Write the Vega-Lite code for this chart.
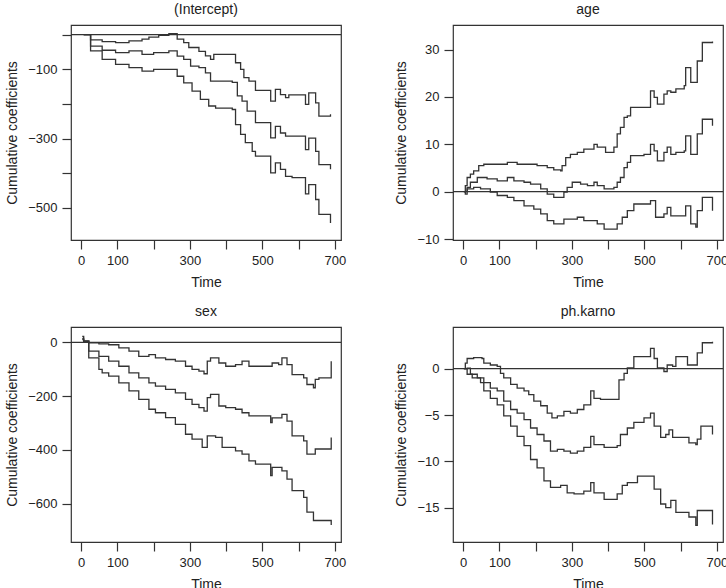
{
  "$schema": "https://vega.github.io/schema/vega-lite/v6.json",
  "padding": {"left": 5, "top": 2, "right": 2, "bottom": 2},
  "background": "white",
  "config": {
    "font": "Liberation Sans",
    "view": {"stroke": "#333", "strokeWidth": 1.2},
    "axis": {"domain": false, "grid": false, "tickColor": "#333", "tickSize": 9, "tickWidth": 1.2,
             "labelFontSize": 13, "labelColor": "#222", "labelPadding": 5, "titlePadding": 8,
             "titleFontSize": 14, "titleFontWeight": "normal", "titleColor": "#222"},
    "title": {"fontSize": 14, "fontWeight": "normal", "color": "#222", "offset": 8}
  },
  "datasets": {
    "icpt": [
      {"t":7,"v":0,"s":"u"},{"t":26,"v":-15,"s":"u"},{"t":58,"v":-20,"s":"u"},{"t":95,"v":-23,"s":"u"},{"t":132,"v":-18,"s":"u"},{"t":168,"v":-13,"s":"u"},{"t":187,"v":-7,"s":"u"},{"t":214,"v":-2,"s":"u"},{"t":242,"v":3,"s":"u"},{"t":265,"v":-13,"s":"u"},{"t":283,"v":-23,"s":"u"},{"t":297,"v":-37,"s":"u"},{"t":325,"v":-48,"s":"u"},{"t":343,"v":-61,"s":"u"},{"t":357,"v":-71,"s":"u"},{"t":366,"v":-57,"s":"u"},{"t":389,"v":-57,"s":"u"},{"t":426,"v":-81,"s":"u"},{"t":440,"v":-100,"s":"u"},{"t":449,"v":-124,"s":"u"},{"t":463,"v":-134,"s":"u"},{"t":481,"v":-161,"s":"u"},{"t":518,"v":-161,"s":"u"},{"t":523,"v":-192,"s":"u"},{"t":536,"v":-158,"s":"u"},{"t":550,"v":-173,"s":"u"},{"t":564,"v":-182,"s":"u"},{"t":573,"v":-174,"s":"u"},{"t":614,"v":-174,"s":"u"},{"t":619,"v":-201,"s":"u"},{"t":628,"v":-168,"s":"u"},{"t":641,"v":-168,"s":"u"},{"t":647,"v":-197,"s":"u"},{"t":656,"v":-235,"s":"u"},{"t":688,"v":-230,"s":"u"},
      {"t":7,"v":0,"s":"e"},{"t":26,"v":-33,"s":"e"},{"t":58,"v":-45,"s":"e"},{"t":95,"v":-52,"s":"e"},{"t":132,"v":-47,"s":"e"},{"t":168,"v":-57,"s":"e"},{"t":200,"v":-52,"s":"e"},{"t":242,"v":-47,"s":"e"},{"t":265,"v":-62,"s":"e"},{"t":283,"v":-71,"s":"e"},{"t":302,"v":-91,"s":"e"},{"t":325,"v":-95,"s":"e"},{"t":343,"v":-110,"s":"e"},{"t":357,"v":-134,"s":"e"},{"t":389,"v":-134,"s":"e"},{"t":417,"v":-138,"s":"e"},{"t":431,"v":-177,"s":"e"},{"t":444,"v":-192,"s":"e"},{"t":458,"v":-221,"s":"e"},{"t":481,"v":-254,"s":"e"},{"t":518,"v":-254,"s":"e"},{"t":523,"v":-298,"s":"e"},{"t":536,"v":-265,"s":"e"},{"t":550,"v":-284,"s":"e"},{"t":564,"v":-293,"s":"e"},{"t":614,"v":-293,"s":"e"},{"t":619,"v":-332,"s":"e"},{"t":628,"v":-299,"s":"e"},{"t":641,"v":-299,"s":"e"},{"t":647,"v":-337,"s":"e"},{"t":656,"v":-375,"s":"e"},{"t":688,"v":-389,"s":"e"},
      {"t":7,"v":0,"s":"l"},{"t":26,"v":-47,"s":"l"},{"t":58,"v":-71,"s":"l"},{"t":95,"v":-86,"s":"l"},{"t":132,"v":-95,"s":"l"},{"t":168,"v":-105,"s":"l"},{"t":200,"v":-100,"s":"l"},{"t":242,"v":-100,"s":"l"},{"t":265,"v":-120,"s":"l"},{"t":283,"v":-139,"s":"l"},{"t":306,"v":-163,"s":"l"},{"t":329,"v":-187,"s":"l"},{"t":352,"v":-206,"s":"l"},{"t":371,"v":-212,"s":"l"},{"t":417,"v":-216,"s":"l"},{"t":426,"v":-260,"s":"l"},{"t":440,"v":-288,"s":"l"},{"t":453,"v":-312,"s":"l"},{"t":472,"v":-337,"s":"l"},{"t":481,"v":-351,"s":"l"},{"t":518,"v":-351,"s":"l"},{"t":523,"v":-399,"s":"l"},{"t":536,"v":-370,"s":"l"},{"t":550,"v":-389,"s":"l"},{"t":564,"v":-409,"s":"l"},{"t":582,"v":-413,"s":"l"},{"t":614,"v":-413,"s":"l"},{"t":619,"v":-460,"s":"l"},{"t":628,"v":-433,"s":"l"},{"t":641,"v":-433,"s":"l"},{"t":647,"v":-476,"s":"l"},{"t":656,"v":-519,"s":"l"},{"t":688,"v":-544,"s":"l"}
    ],
    "age": [
      {"t":2,"v":0,"s":"u"},{"t":6,"v":1.3,"s":"u"},{"t":11,"v":3,"s":"u"},{"t":20,"v":3.7,"s":"u"},{"t":29,"v":4.4,"s":"u"},{"t":43,"v":5.5,"s":"u"},{"t":57,"v":5.8,"s":"u"},{"t":94,"v":5.8,"s":"u"},{"t":122,"v":6.2,"s":"u"},{"t":149,"v":5.8,"s":"u"},{"t":177,"v":5.8,"s":"u"},{"t":204,"v":5.5,"s":"u"},{"t":232,"v":5.1,"s":"u"},{"t":250,"v":4.6,"s":"u"},{"t":269,"v":4.4,"s":"u"},{"t":273,"v":5.5,"s":"u"},{"t":283,"v":7.2,"s":"u"},{"t":296,"v":7.9,"s":"u"},{"t":315,"v":8.3,"s":"u"},{"t":333,"v":9,"s":"u"},{"t":361,"v":10,"s":"u"},{"t":370,"v":9.4,"s":"u"},{"t":389,"v":9.4,"s":"u"},{"t":393,"v":8.3,"s":"u"},{"t":416,"v":9.4,"s":"u"},{"t":425,"v":12.2,"s":"u"},{"t":434,"v":13.6,"s":"u"},{"t":444,"v":15.7,"s":"u"},{"t":453,"v":16,"s":"u"},{"t":462,"v":17.8,"s":"u"},{"t":499,"v":17.8,"s":"u"},{"t":517,"v":21.3,"s":"u"},{"t":527,"v":19.9,"s":"u"},{"t":536,"v":18.5,"s":"u"},{"t":554,"v":20.6,"s":"u"},{"t":563,"v":21.3,"s":"u"},{"t":573,"v":21,"s":"u"},{"t":587,"v":21.7,"s":"u"},{"t":610,"v":22.4,"s":"u"},{"t":614,"v":26.2,"s":"u"},{"t":628,"v":23.1,"s":"u"},{"t":646,"v":27.6,"s":"u"},{"t":660,"v":31.5,"s":"u"},{"t":688,"v":31.7,"s":"u"},
      {"t":2,"v":0,"s":"e"},{"t":6,"v":-0.5,"s":"e"},{"t":11,"v":0.9,"s":"e"},{"t":20,"v":2,"s":"e"},{"t":39,"v":3,"s":"e"},{"t":66,"v":2.7,"s":"e"},{"t":94,"v":2.3,"s":"e"},{"t":122,"v":3,"s":"e"},{"t":140,"v":2.3,"s":"e"},{"t":168,"v":2,"s":"e"},{"t":186,"v":1.6,"s":"e"},{"t":214,"v":0.6,"s":"e"},{"t":232,"v":-0.5,"s":"e"},{"t":250,"v":-1.2,"s":"e"},{"t":278,"v":-0.1,"s":"e"},{"t":287,"v":0.9,"s":"e"},{"t":301,"v":2,"s":"e"},{"t":324,"v":1.6,"s":"e"},{"t":343,"v":1.3,"s":"e"},{"t":361,"v":2,"s":"e"},{"t":370,"v":1.3,"s":"e"},{"t":389,"v":0.6,"s":"e"},{"t":416,"v":0.9,"s":"e"},{"t":425,"v":2,"s":"e"},{"t":434,"v":3,"s":"e"},{"t":444,"v":5.1,"s":"e"},{"t":453,"v":6.2,"s":"e"},{"t":462,"v":7.6,"s":"e"},{"t":499,"v":7.9,"s":"e"},{"t":517,"v":10,"s":"e"},{"t":527,"v":8.6,"s":"e"},{"t":536,"v":6.5,"s":"e"},{"t":554,"v":8.3,"s":"e"},{"t":563,"v":9.4,"s":"e"},{"t":573,"v":7.9,"s":"e"},{"t":587,"v":8.3,"s":"e"},{"t":610,"v":8.6,"s":"e"},{"t":614,"v":11.8,"s":"e"},{"t":628,"v":7.9,"s":"e"},{"t":646,"v":12.2,"s":"e"},{"t":660,"v":15.3,"s":"e"},{"t":688,"v":13.9,"s":"e"},
      {"t":2,"v":0,"s":"l"},{"t":11,"v":0.6,"s":"l"},{"t":29,"v":0.9,"s":"l"},{"t":48,"v":0.6,"s":"l"},{"t":75,"v":-0.1,"s":"l"},{"t":94,"v":-0.8,"s":"l"},{"t":122,"v":-1.2,"s":"l"},{"t":140,"v":-1.9,"s":"l"},{"t":168,"v":-3,"s":"l"},{"t":195,"v":-3.7,"s":"l"},{"t":214,"v":-4.7,"s":"l"},{"t":232,"v":-6.1,"s":"l"},{"t":250,"v":-6.8,"s":"l"},{"t":278,"v":-5.8,"s":"l"},{"t":315,"v":-5.4,"s":"l"},{"t":333,"v":-6.1,"s":"l"},{"t":370,"v":-6.8,"s":"l"},{"t":389,"v":-7.9,"s":"l"},{"t":425,"v":-6.8,"s":"l"},{"t":439,"v":-5.4,"s":"l"},{"t":453,"v":-4,"s":"l"},{"t":471,"v":-2.6,"s":"l"},{"t":517,"v":-1.9,"s":"l"},{"t":531,"v":-5.4,"s":"l"},{"t":554,"v":-4.7,"s":"l"},{"t":563,"v":-3.3,"s":"l"},{"t":573,"v":-5.1,"s":"l"},{"t":614,"v":-3,"s":"l"},{"t":628,"v":-6.8,"s":"l"},{"t":642,"v":-7.5,"s":"l"},{"t":646,"v":-4,"s":"l"},{"t":660,"v":-1.2,"s":"l"},{"t":688,"v":-4,"s":"l"}
    ],
    "sex": [
      {"t":3,"v":22,"s":"u"},{"t":7,"v":4,"s":"u"},{"t":21,"v":-2,"s":"u"},{"t":49,"v":-6,"s":"u"},{"t":76,"v":-9,"s":"u"},{"t":104,"v":-21,"s":"u"},{"t":132,"v":-33,"s":"u"},{"t":159,"v":-52,"s":"u"},{"t":187,"v":-46,"s":"u"},{"t":205,"v":-58,"s":"u"},{"t":233,"v":-64,"s":"u"},{"t":260,"v":-70,"s":"u"},{"t":288,"v":-89,"s":"u"},{"t":306,"v":-101,"s":"u"},{"t":325,"v":-107,"s":"u"},{"t":339,"v":-117,"s":"u"},{"t":348,"v":-70,"s":"u"},{"t":357,"v":-58,"s":"u"},{"t":380,"v":-77,"s":"u"},{"t":399,"v":-89,"s":"u"},{"t":426,"v":-83,"s":"u"},{"t":444,"v":-70,"s":"u"},{"t":463,"v":-89,"s":"u"},{"t":518,"v":-89,"s":"u"},{"t":527,"v":-77,"s":"u"},{"t":545,"v":-83,"s":"u"},{"t":554,"v":-58,"s":"u"},{"t":568,"v":-83,"s":"u"},{"t":582,"v":-120,"s":"u"},{"t":614,"v":-132,"s":"u"},{"t":623,"v":-157,"s":"u"},{"t":641,"v":-169,"s":"u"},{"t":646,"v":-138,"s":"u"},{"t":656,"v":-132,"s":"u"},{"t":688,"v":-132,"s":"u"},{"t":690,"v":-70,"s":"u"},
      {"t":3,"v":15,"s":"e"},{"t":7,"v":4,"s":"e"},{"t":21,"v":-33,"s":"e"},{"t":49,"v":-52,"s":"e"},{"t":76,"v":-70,"s":"e"},{"t":104,"v":-89,"s":"e"},{"t":132,"v":-114,"s":"e"},{"t":159,"v":-132,"s":"e"},{"t":187,"v":-151,"s":"e"},{"t":205,"v":-163,"s":"e"},{"t":233,"v":-175,"s":"e"},{"t":260,"v":-188,"s":"e"},{"t":288,"v":-212,"s":"e"},{"t":306,"v":-231,"s":"e"},{"t":325,"v":-243,"s":"e"},{"t":339,"v":-256,"s":"e"},{"t":348,"v":-206,"s":"e"},{"t":357,"v":-194,"s":"e"},{"t":380,"v":-237,"s":"e"},{"t":399,"v":-243,"s":"e"},{"t":426,"v":-249,"s":"e"},{"t":444,"v":-262,"s":"e"},{"t":463,"v":-274,"s":"e"},{"t":518,"v":-274,"s":"e"},{"t":523,"v":-299,"s":"e"},{"t":527,"v":-281,"s":"e"},{"t":554,"v":-268,"s":"e"},{"t":568,"v":-293,"s":"e"},{"t":582,"v":-348,"s":"e"},{"t":614,"v":-367,"s":"e"},{"t":623,"v":-416,"s":"e"},{"t":641,"v":-416,"s":"e"},{"t":646,"v":-397,"s":"e"},{"t":688,"v":-397,"s":"e"},{"t":690,"v":-354,"s":"e"},
      {"t":3,"v":10,"s":"l"},{"t":7,"v":4,"s":"l"},{"t":21,"v":-58,"s":"l"},{"t":49,"v":-101,"s":"l"},{"t":58,"v":-114,"s":"l"},{"t":76,"v":-126,"s":"l"},{"t":104,"v":-151,"s":"l"},{"t":132,"v":-181,"s":"l"},{"t":159,"v":-212,"s":"l"},{"t":187,"v":-249,"s":"l"},{"t":205,"v":-262,"s":"l"},{"t":233,"v":-280,"s":"l"},{"t":260,"v":-305,"s":"l"},{"t":288,"v":-342,"s":"l"},{"t":306,"v":-360,"s":"l"},{"t":334,"v":-391,"s":"l"},{"t":348,"v":-348,"s":"l"},{"t":371,"v":-354,"s":"l"},{"t":389,"v":-391,"s":"l"},{"t":426,"v":-404,"s":"l"},{"t":444,"v":-416,"s":"l"},{"t":463,"v":-441,"s":"l"},{"t":481,"v":-453,"s":"l"},{"t":518,"v":-453,"s":"l"},{"t":523,"v":-496,"s":"l"},{"t":527,"v":-465,"s":"l"},{"t":554,"v":-478,"s":"l"},{"t":568,"v":-509,"s":"l"},{"t":582,"v":-552,"s":"l"},{"t":614,"v":-577,"s":"l"},{"t":623,"v":-632,"s":"l"},{"t":641,"v":-663,"s":"l"},{"t":688,"v":-663,"s":"l"},{"t":690,"v":-680,"s":"l"}
    ],
    "karno": [
      {"t":2,"v":0,"s":"u"},{"t":6,"v":0.6,"s":"u"},{"t":11,"v":1.1,"s":"u"},{"t":29,"v":1.2,"s":"u"},{"t":52,"v":1.1,"s":"u"},{"t":57,"v":0.6,"s":"u"},{"t":75,"v":0.4,"s":"u"},{"t":94,"v":0.25,"s":"u"},{"t":103,"v":-0.5,"s":"u"},{"t":112,"v":-1,"s":"u"},{"t":131,"v":-1.7,"s":"u"},{"t":149,"v":-2.1,"s":"u"},{"t":168,"v":-2.4,"s":"u"},{"t":181,"v":-2.8,"s":"u"},{"t":195,"v":-3.5,"s":"u"},{"t":214,"v":-4,"s":"u"},{"t":232,"v":-4.8,"s":"u"},{"t":245,"v":-5.3,"s":"u"},{"t":260,"v":-5.1,"s":"u"},{"t":278,"v":-4.6,"s":"u"},{"t":296,"v":-4.8,"s":"u"},{"t":315,"v":-4.4,"s":"u"},{"t":333,"v":-3.9,"s":"u"},{"t":352,"v":-2.4,"s":"u"},{"t":361,"v":-3.2,"s":"u"},{"t":379,"v":-3.3,"s":"u"},{"t":416,"v":-3.3,"s":"u"},{"t":430,"v":-1.2,"s":"u"},{"t":444,"v":-0.5,"s":"u"},{"t":453,"v":0.1,"s":"u"},{"t":471,"v":1.3,"s":"u"},{"t":508,"v":1.3,"s":"u"},{"t":517,"v":2.2,"s":"u"},{"t":527,"v":1.1,"s":"u"},{"t":536,"v":0.1,"s":"u"},{"t":554,"v":-0.3,"s":"u"},{"t":563,"v":0.4,"s":"u"},{"t":578,"v":0.25,"s":"u"},{"t":587,"v":1.3,"s":"u"},{"t":619,"v":0.4,"s":"u"},{"t":642,"v":0.4,"s":"u"},{"t":646,"v":1.7,"s":"u"},{"t":660,"v":2.8,"s":"u"},{"t":688,"v":2.9,"s":"u"},
      {"t":2,"v":0,"s":"e"},{"t":11,"v":0.07,"s":"e"},{"t":20,"v":-0.6,"s":"e"},{"t":39,"v":-1,"s":"e"},{"t":57,"v":-1.5,"s":"e"},{"t":75,"v":-2.1,"s":"e"},{"t":94,"v":-2.4,"s":"e"},{"t":112,"v":-3.5,"s":"e"},{"t":131,"v":-4.4,"s":"e"},{"t":149,"v":-4.8,"s":"e"},{"t":168,"v":-5.5,"s":"e"},{"t":186,"v":-6.4,"s":"e"},{"t":204,"v":-7.1,"s":"e"},{"t":223,"v":-7.8,"s":"e"},{"t":241,"v":-8.9,"s":"e"},{"t":260,"v":-8.7,"s":"e"},{"t":278,"v":-8.9,"s":"e"},{"t":296,"v":-9.1,"s":"e"},{"t":315,"v":-8.9,"s":"e"},{"t":333,"v":-8.5,"s":"e"},{"t":352,"v":-7.3,"s":"e"},{"t":361,"v":-8.2,"s":"e"},{"t":389,"v":-8.5,"s":"e"},{"t":425,"v":-8.3,"s":"e"},{"t":434,"v":-7.1,"s":"e"},{"t":453,"v":-6.4,"s":"e"},{"t":471,"v":-5.8,"s":"e"},{"t":499,"v":-5.3,"s":"e"},{"t":517,"v":-4.8,"s":"e"},{"t":527,"v":-6.2,"s":"e"},{"t":545,"v":-7.4,"s":"e"},{"t":559,"v":-7.1,"s":"e"},{"t":568,"v":-6.6,"s":"e"},{"t":578,"v":-7.4,"s":"e"},{"t":614,"v":-7.4,"s":"e"},{"t":623,"v":-8,"s":"e"},{"t":642,"v":-8.2,"s":"e"},{"t":646,"v":-7.6,"s":"e"},{"t":656,"v":-6.2,"s":"e"},{"t":688,"v":-7.1,"s":"e"},
      {"t":2,"v":0,"s":"l"},{"t":11,"v":-0.6,"s":"l"},{"t":25,"v":-1,"s":"l"},{"t":48,"v":-1.5,"s":"l"},{"t":57,"v":-2.4,"s":"l"},{"t":75,"v":-3.2,"s":"l"},{"t":94,"v":-3.9,"s":"l"},{"t":112,"v":-5.1,"s":"l"},{"t":131,"v":-6.2,"s":"l"},{"t":149,"v":-7.3,"s":"l"},{"t":168,"v":-8.3,"s":"l"},{"t":186,"v":-9.8,"s":"l"},{"t":204,"v":-10.7,"s":"l"},{"t":223,"v":-12.1,"s":"l"},{"t":241,"v":-12.8,"s":"l"},{"t":269,"v":-12.6,"s":"l"},{"t":287,"v":-13.4,"s":"l"},{"t":306,"v":-13.5,"s":"l"},{"t":333,"v":-13.2,"s":"l"},{"t":352,"v":-12.3,"s":"l"},{"t":361,"v":-13.4,"s":"l"},{"t":389,"v":-14.1,"s":"l"},{"t":425,"v":-13.5,"s":"l"},{"t":439,"v":-12.6,"s":"l"},{"t":453,"v":-12.3,"s":"l"},{"t":481,"v":-11.6,"s":"l"},{"t":517,"v":-11.6,"s":"l"},{"t":527,"v":-13,"s":"l"},{"t":545,"v":-14.6,"s":"l"},{"t":559,"v":-15,"s":"l"},{"t":573,"v":-14.2,"s":"l"},{"t":587,"v":-15.5,"s":"l"},{"t":614,"v":-15.5,"s":"l"},{"t":623,"v":-16,"s":"l"},{"t":642,"v":-16.9,"s":"l"},{"t":646,"v":-15.3,"s":"l"},{"t":688,"v":-16.8,"s":"l"}
    ]
  },
  "columns": 2,
  "spacing": {"row": 87, "column": 112},
  "bounds": "flush",
  "concat": [
    {
      "title": "(Intercept)", "width": 270, "height": 215,
      "layer": [
        {"data": {"values": [{}]}, "mark": {"type": "rule", "color": "#333", "strokeWidth": 1.3}, "encoding": {"y": {"datum": 0}}},
        {"data": {"name": "icpt"}, "mark": {"type": "line", "interpolate": "step-after", "color": "#333", "strokeWidth": 1.3},
         "encoding": {
           "x": {"field": "t", "type": "quantitative", "title": "Time", "scale": {"domain": [-28, 717], "nice": false, "zero": false},
                 "axis": {"values": [0,100,200,300,400,500,600,700], "labelExpr": "datum.value==200||datum.value==400||datum.value==600 ? '' : datum.label"}},
           "y": {"field": "v", "type": "quantitative", "title": "Cumulative coefficients", "scale": {"domain": [-593, 28], "nice": false, "zero": false},
                 "axis": {"values": [0,-100,-200,-300,-400,-500], "labelExpr": "datum.value==-100||datum.value==-300||datum.value==-500 ? datum.label : ''"}},
           "detail": {"field": "s"}
         }}
      ]
    },
    {
      "title": "age", "width": 270, "height": 215,
      "layer": [
        {"data": {"values": [{}]}, "mark": {"type": "rule", "color": "#333", "strokeWidth": 1.3}, "encoding": {"y": {"datum": 0}}},
        {"data": {"name": "age"}, "mark": {"type": "line", "interpolate": "step-after", "color": "#333", "strokeWidth": 1.3},
         "encoding": {
           "x": {"field": "t", "type": "quantitative", "title": "Time", "scale": {"domain": [-28, 717], "nice": false, "zero": false},
                 "axis": {"values": [0,100,200,300,400,500,600,700], "labelExpr": "datum.value==200||datum.value==400||datum.value==600 ? '' : datum.label"}},
           "y": {"field": "v", "type": "quantitative", "title": "Cumulative coefficients", "scale": {"domain": [-10.2, 35.2], "nice": false, "zero": false},
                 "axis": {"values": [-10,0,10,20,30]}},
           "detail": {"field": "s"}
         }}
      ]
    },
    {
      "title": "sex", "width": 270, "height": 215,
      "layer": [
        {"data": {"values": [{}]}, "mark": {"type": "rule", "color": "#333", "strokeWidth": 1.3}, "encoding": {"y": {"datum": 0}}},
        {"data": {"name": "sex"}, "mark": {"type": "line", "interpolate": "step-after", "color": "#333", "strokeWidth": 1.3},
         "encoding": {
           "x": {"field": "t", "type": "quantitative", "title": "Time", "scale": {"domain": [-28, 717], "nice": false, "zero": false},
                 "axis": {"values": [0,100,200,300,400,500,600,700], "labelExpr": "datum.value==200||datum.value==400||datum.value==600 ? '' : datum.label"}},
           "y": {"field": "v", "type": "quantitative", "title": "Cumulative coefficients", "scale": {"domain": [-743, 57], "nice": false, "zero": false},
                 "axis": {"values": [0,-200,-400,-600]}},
           "detail": {"field": "s"}
         }}
      ]
    },
    {
      "title": "ph.karno", "width": 270, "height": 215,
      "layer": [
        {"data": {"values": [{}]}, "mark": {"type": "rule", "color": "#333", "strokeWidth": 1.3}, "encoding": {"y": {"datum": 0}}},
        {"data": {"name": "karno"}, "mark": {"type": "line", "interpolate": "step-after", "color": "#333", "strokeWidth": 1.3},
         "encoding": {
           "x": {"field": "t", "type": "quantitative", "title": "Time", "scale": {"domain": [-28, 717], "nice": false, "zero": false},
                 "axis": {"values": [0,100,200,300,400,500,600,700], "labelExpr": "datum.value==200||datum.value==400||datum.value==600 ? '' : datum.label"}},
           "y": {"field": "v", "type": "quantitative", "title": "Cumulative coefficients", "scale": {"domain": [-18.7, 4.5], "nice": false, "zero": false},
                 "axis": {"values": [0,-5,-10,-15]}},
           "detail": {"field": "s"}
         }}
      ]
    }
  ]
}
